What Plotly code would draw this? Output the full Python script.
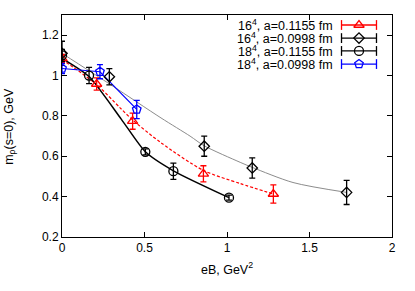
import plotly.graph_objects as go

# ---- data ----
# 16^4, a=0.1155 fm (red triangles)
tri_x = [0.0, 0.21, 0.428, 0.857, 1.281]
tri_y = [1.085, 0.958, 0.774, 0.513, 0.413]
tri_e = [0.02, 0.03, 0.04, 0.04, 0.045]

# 16^4, a=0.0998 fm (black diamonds)
dia_x = [0.0, 0.287, 0.862, 1.153, 1.725]
dia_y = [1.11, 0.994, 0.65, 0.542, 0.421]
dia_e = [0.06, 0.04, 0.05, 0.05, 0.06]

# 18^4, a=0.1155 fm (black circles)
cir_x = [0.0, 0.164, 0.505, 0.675, 1.012]
cir_y = [1.10, 1.0, 0.622, 0.526, 0.395]
cir_e = [0.03, 0.04, 0.015, 0.04, 0.012]

# 18^4, a=0.0998 fm (blue pentagons)
pen_x = [0.0, 0.23, 0.453]
pen_y = [1.035, 1.019, 0.832]
pen_e = [0.025, 0.035, 0.045]

# fit curves
fit_gray_x = [0.0, 0.3, 0.6, 0.776, 0.862, 1.08, 1.153, 1.4, 1.725]
fit_gray_y = [1.11, 0.952, 0.79, 0.70, 0.652, 0.57, 0.545, 0.47, 0.421]
fit_red_x = [0.0, 0.21, 0.352, 0.428, 0.6, 0.857, 1.08, 1.281]
fit_red_y = [1.08, 0.955, 0.84, 0.78, 0.667, 0.53, 0.465, 0.413]
fit_blk_x = [0.0, 0.164, 0.36, 0.505, 0.675, 1.012]
fit_blk_y = [1.085, 0.995, 0.783, 0.622, 0.528, 0.395]
fit_blu_x = pen_x
fit_blu_y = pen_y

legend_labels = ["16<sup>4</sup>, a=0.1155 fm", "16<sup>4</sup>, a=0.0998 fm",
                 "18<sup>4</sup>, a=0.1155 fm", "18<sup>4</sup>, a=0.0998 fm"]

x_ticks = [0, 0.5, 1, 1.5, 2]
x_ticktext = ["0", "0.5", "1", "1.5", "2"]
y_ticks = [0.2, 0.4, 0.6, 0.8, 1.0, 1.2]
y_ticktext = ["0.2", "0.4", "0.6", "0.8", "1", "1.2"]

RED = "#ff0000"
BLUE = "#0000ff"
BLACK = "#000000"
GRAY = "#8c8c8c"

series = [
    (tri_x, tri_y, tri_e, RED, "triangle-up-open"),
    (dia_x, dia_y, dia_e, BLACK, "diamond-open"),
    (cir_x, cir_y, cir_e, BLACK, "circle-open"),
    (pen_x, pen_y, pen_e, BLUE, "pentagon-open"),
]

fig = go.Figure()

# fit lines
fig.add_trace(go.Scatter(x=fit_gray_x, y=fit_gray_y, mode="lines",
                         line=dict(color=GRAY, width=1, shape="spline", smoothing=0.8),
                         showlegend=False, hoverinfo="skip"))
fig.add_trace(go.Scatter(x=fit_red_x, y=fit_red_y, mode="lines",
                         line=dict(color=RED, width=1.2, dash="3px,2px", shape="spline", smoothing=0.8),
                         showlegend=False, hoverinfo="skip"))
fig.add_trace(go.Scatter(x=fit_blk_x, y=fit_blk_y, mode="lines",
                         line=dict(color=BLACK, width=1.5, shape="spline", smoothing=0.6),
                         showlegend=False, hoverinfo="skip"))
fig.add_trace(go.Scatter(x=fit_blu_x, y=fit_blu_y, mode="lines",
                         line=dict(color=BLUE, width=1.2),
                         showlegend=False, hoverinfo="skip"))

sizes = {"triangle-up-open": 9, "diamond-open": 8, "circle-open": 9, "pentagon-open": 9}
for xs, ys, es, col, sym in series:
    fig.add_trace(go.Scatter(
        x=xs, y=ys, mode="markers",
        marker=dict(symbol=sym, size=sizes[sym], color=col, line=dict(width=1.3, color=col)),
        error_y=dict(type="data", array=es, visible=True, color=col, thickness=1.3, width=3),
        showlegend=False))

# custom gnuplot-style key (text left of sample), on an overlay axis spanning the plot area
key_rows = [0.955, 0.896, 0.838, 0.779]
for (xs, ys, es, col, sym), lab, ry in zip(series, legend_labels, key_rows):
    fig.add_trace(go.Scatter(x=[0.847, 0.953], y=[ry, ry], mode="lines",
                             line=dict(color=col, width=1.3), xaxis="x2", yaxis="y2",
                             showlegend=False, hoverinfo="skip"))
    fig.add_trace(go.Scatter(x=[0.847, 0.953], y=[ry, ry], mode="markers",
                             marker=dict(symbol="line-ns", size=7, line=dict(width=1.3, color=col)),
                             xaxis="x2", yaxis="y2", showlegend=False, hoverinfo="skip"))
    fig.add_trace(go.Scatter(x=[0.9], y=[ry], mode="markers",
                             marker=dict(symbol=sym, size=sizes[sym], color=col, line=dict(width=1.3, color=col)),
                             xaxis="x2", yaxis="y2", showlegend=False, hoverinfo="skip"))
    fig.add_annotation(x=0.827, y=ry, xref="paper", yref="paper", text=lab,
                       showarrow=False, xanchor="right", yanchor="middle",
                       font=dict(family="Liberation Sans, Arial, sans-serif", size=12.5, color=BLACK))

font = dict(family="Liberation Sans, Arial, sans-serif", size=12, color=BLACK)
title_font = dict(family="Liberation Sans, Arial, sans-serif", size=12.5, color=BLACK)

# y-axis title as a rotated annotation, placed far left like the reference
fig.add_annotation(x=-0.158, y=0.5, xref="paper", yref="paper",
                   text="m<sub>ρ</sub>(s=0), GeV", textangle=-90, showarrow=False,
                   xanchor="center", yanchor="middle", font=title_font)

axis_common = dict(showline=True, linecolor=BLACK, linewidth=1, mirror="ticks",
                   ticks="inside", ticklen=5, tickcolor=BLACK, showgrid=False,
                   zeroline=False, tickfont=font, automargin=False)
fig.update_layout(
    width=415, height=291,
    margin=dict(l=62, r=23, t=15, b=54),
    paper_bgcolor="white", plot_bgcolor="white",
    font=font,
    xaxis=dict(range=[0, 2], tickvals=x_ticks, ticktext=x_ticktext,
               title=dict(text="eB, GeV<sup>2</sup>", font=title_font, standoff=10), **axis_common),
    yaxis=dict(range=[0.2, 1.3], tickvals=y_ticks, ticktext=y_ticktext, **axis_common),
    xaxis2=dict(range=[0, 1], overlaying="x", visible=False, fixedrange=True),
    yaxis2=dict(range=[0, 1], overlaying="y", visible=False, fixedrange=True),
    showlegend=False,
)

# remove the default 8px page margin so the figure fills the window exactly; hide the modebar
fig.write_html("out.html", config={"displayModeBar": False},
               post_script="document.body.style.margin='0';document.body.style.overflow='hidden';")
